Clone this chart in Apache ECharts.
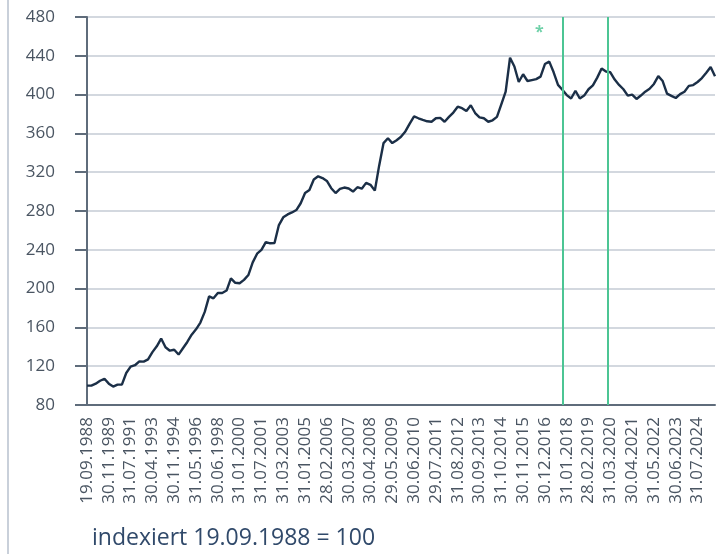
<!DOCTYPE html>
<html>
<head>
<meta charset="utf-8">
<script src="https://cdn.jsdelivr.net/npm/echarts@6/dist/echarts.min.js"></script>
<style>
html,body{margin:0;padding:0;background:#fff;}
#chart{width:725px;height:554px;}
</style>
</head>
<body>
<div id="chart"></div>
<script>
const tickLabels = ['19.09.1988','30.11.1989','31.07.1991','30.04.1993','30.11.1994','31.05.1996','30.06.1998','31.01.2000','31.07.2001','31.03.2003','31.01.2005','28.02.2006','30.03.2007','30.04.2008','29.05.2009','30.06.2010','29.07.2011','31.08.2012','30.09.2013','31.10.2014','30.11.2015','30.12.2016','31.01.2018','28.02.2019','31.03.2020','30.04.2021','31.05.2022','30.06.2023','31.07.2024'];
const pointsPerLabel = 5;
const indexValues = [
  100, 100, 102, 105, 107, 102, 99, 101, 101, 113,
  119.5, 121, 125, 124.7, 127, 134.5, 140.5, 148.5, 139.5, 136,
  137, 132, 138.5, 145, 152.5, 158, 165, 176, 192, 190,
  195.5, 195.5, 198, 210.5, 206, 205.5, 209, 214, 227, 236,
  240, 248, 246.7, 247, 265.5, 273.5, 276.5, 278.5, 281, 288,
  298.5, 301.6, 312.5, 315.8, 314, 311, 303.5, 298.5, 302.7, 304.2,
  303.2, 300, 304.5, 303, 309, 307, 301, 327, 350, 355,
  350, 353, 356.5, 362, 370, 377.5, 375.6, 374, 372.5, 372,
  375.6, 376, 372, 377, 381.5, 387.5, 386, 383, 389, 381,
  376.5, 375.6, 372, 373.5, 377, 390, 403, 438, 429, 413,
  421, 414, 415, 416, 418.5, 431.5, 434, 423, 410, 405,
  399.5, 396, 404, 396, 399, 405.5, 409.5, 417.5, 427, 423.8,
  423, 415.5, 410, 405.5, 399, 400, 395.5, 399, 403, 406,
  411, 419, 414, 401, 398.7, 396.5, 400.5, 403, 409, 409.8,
  413, 417, 422.5, 428.5, 419
];
const eventLines = [109, 119.3];
const noteMark = [103.7, 468];
const yMin = 80, yMax = 480, yStep = 40;
const footnote = 'indexiert 19.09.1988 = 100';

const lineData = indexValues.map((v, i) => [i, v]);
const font = "'Open Sans', 'DejaVu Sans', sans-serif";
const axisColor = '#5f6c7b';
const green = '#4cc594';

const chart = echarts.init(document.getElementById('chart'));
chart.setOption({
  animation: false,
  backgroundColor: '#fff',
  title: {
    text: footnote, left: 92, top: 527, padding: 0,
    textStyle: { fontFamily: font, fontSize: 23, fontWeight: 'normal', color: '#30496a' }
  },
  graphic: [{
    type: 'line', shape: { x1: 8, y1: 0, x2: 8, y2: 554 },
    style: { stroke: '#c9d0da', lineWidth: 2 }
  }],
  grid: { left: 87, right: 10, top: 17, bottom: 149 },
  xAxis: {
    type: 'value', min: 0, max: indexValues.length - 1, interval: pointsPerLabel,
    axisLine: { show: true, onZero: false, lineStyle: { color: axisColor, width: 2 } },
    axisTick: { show: false },
    splitLine: { show: false },
    axisLabel: {
      rotate: 90, margin: 12, fontFamily: font, fontSize: 17, color: '#4a5562',
      showMaxLabel: false,
      formatter: v => (v % pointsPerLabel === 0 && tickLabels[v / pointsPerLabel]) || ''
    }
  },
  yAxis: [{
    type: 'value', min: yMin, max: yMax, interval: yStep, offset: 12,
    axisLine: { show: true, lineStyle: { color: axisColor, width: 2 } },
    axisTick: { show: true, length: 11, lineStyle: { color: axisColor, width: 2 } },
    splitLine: { show: true, lineStyle: { color: '#d3d8df', width: 2 } },
    axisLabel: { margin: 20, fontFamily: font, fontSize: 17, color: '#4a5562' }
  }, {
    type: 'value', min: yMin, max: yMax, interval: yStep, offset: 12, position: 'left',
    axisLine: { show: false },
    axisTick: { show: true, inside: true, length: 12, lineStyle: { color: axisColor, width: 2 } },
    splitLine: { show: false },
    axisLabel: { show: false }
  }],
  series: [{
    type: 'line', data: lineData, showSymbol: false, symbol: 'none',
    lineStyle: { color: '#1b2f47', width: 2.4 },
    markLine: {
      silent: true, symbol: 'none', label: { show: false },
      lineStyle: { color: green, width: 2, type: 'solid' },
      data: eventLines.map(x => ({ xAxis: x }))
    },
    z: 3
  }, {
    type: 'scatter', data: [noteMark], symbolSize: 0,
    label: { show: true, position: 'inside', formatter: '*', fontFamily: font, fontSize: 16, fontWeight: 'bold', color: green, offset: [0, 4] },
    z: 4
  }]
});
</script>
</body>
</html>
